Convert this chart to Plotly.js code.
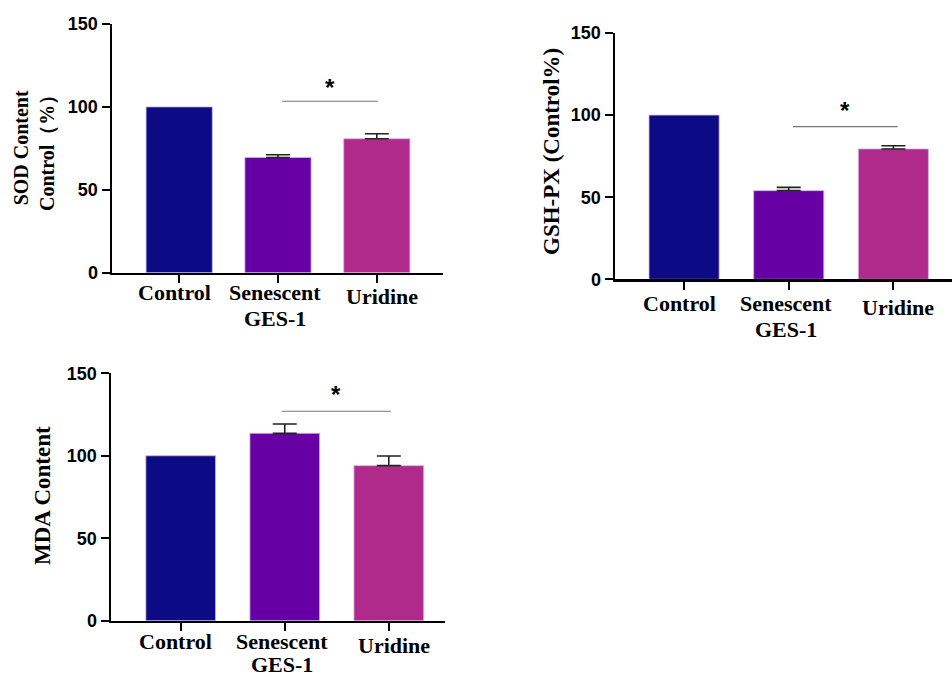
<!DOCTYPE html>
<html>
<head>
<meta charset="utf-8">
<script src="https://cdn.plot.ly/plotly-3.0.1.min.js"></script>
<style>html,body{margin:0;padding:0;background:#fff;}#chart{width:952px;height:677px;}</style>
</head>
<body>
<div id="chart"></div>
<script>
// ---- data ----
const categories = ["Control", "Senescent<br>GES-1", "Uridine"];
const barColors = ["#0c0a84", "#6600a4", "#b02a8c"];

const sodTitle = "SOD Content<br>Control（%）";
const sodValues = [100, 69.5, 80.8];
const sodErrors = [null, 1.6, 3.0];
const sodSigLevel = 103.4;
const sodStarLevel = 112;
const sodSigSpan = [1.04, 2.01];

const gshTitle = "GSH-PX (Control%)";
const gshValues = [100, 54, 79.4];
const gshErrors = [null, 2.0, 1.9];
const gshSigLevel = 93;
const gshStarLevel = 103;
const gshSigSpan = [1.04, 2.04];

const mdaTitle = "MDA Content";
const mdaValues = [100, 113.6, 94];
const mdaErrors = [null, 5.7, 5.9];
const mdaSigLevel = 127;
const mdaStarLevel = 137;
const mdaSigSpan = [0.97, 2.02];

const yTicks = [0, 50, 100, 150];
const sigText = "*";

// ---- layout helpers ----
const W = 952, H = 677;
const serif = "Liberation Serif, Times New Roman, serif";
const sans = "Liberation Sans, Arial, sans-serif";

function bars(vals, errs, xa, ya) {
  return vals.map((v, i) => {
    const t = {
      type: "bar", x: [categories[i]], y: [v], xaxis: xa, yaxis: ya,
      width: 0.67,
      marker: {color: barColors[i], line: {color: "#cbb8e6", width: 0.8}},
      hoverinfo: "none", showlegend: false
    };
    if (errs[i] !== null) {
      t.error_y = {type: "data", symmetric: false, array: [errs[i]], arrayminus: [0],
                   color: "#222", thickness: 1.6, width: 12};
    }
    return t;
  });
}

function xAxis(px0, px1, range, anchor) {
  return {
    domain: [px0 / W, px1 / W], range: range, anchor: anchor,
    type: "category", categoryorder: "array", categoryarray: categories,
    showline: true, linecolor: "#000", linewidth: 2.5,
    ticks: "outside", ticklen: 8, tickwidth: 2, tickcolor: "#000",
    showticklabels: false,
    showgrid: false, zeroline: false, fixedrange: true
  };
}
function yAxis(pyTop, pyBottom, anchor) {
  return {
    domain: [1 - pyBottom / H, 1 - pyTop / H], range: [0, 150], anchor: anchor,
    tickvals: yTicks, showline: true, linecolor: "#000", linewidth: 2.5,
    ticks: "outside", ticklen: 8, tickwidth: 2, tickcolor: "#000",
    showgrid: false, zeroline: false, fixedrange: true,
    tickfont: {family: sans, size: 18, color: "#000", weight: "bold"}
  };
}

const labelXNudge = [-5, -3, 5];
function catLabels(xa, ya, shift, gap) {
  const out = [];
  categories.forEach((c, i) => {
    c.split("<br>").forEach((line, k) => {
      out.push({
        xref: xa, yref: ya, x: i, y: 0, yanchor: "top", xanchor: "center",
        xshift: labelXNudge[i],
        yshift: shift - (i === 2 ? 4 : 0) - gap * k,
        text: line, showarrow: false, align: "center",
        font: {family: serif, size: 22, color: "#000", weight: "bold"}
      });
    });
  });
  return out;
}

function yTitle(xpx, ypx, text, size) {
  return {xref: "paper", yref: "paper", x: xpx / W, y: 1 - ypx / H,
          xanchor: "center", yanchor: "middle", textangle: -90,
          text: text, showarrow: false, align: "center",
          font: {family: serif, size: size, color: "#000", weight: "bold"}};
}

function sigShape(xa, ya, span, level) {
  return {type: "line", xref: xa, yref: ya, x0: span[0], x1: span[1],
          y0: level, y1: level, line: {color: "#777", width: 1.2}};
}
function sigStar(xa, ya, span, starLevel) {
  return {xref: xa, yref: ya, x: (span[0] + span[1]) / 2, y: starLevel,
          text: "<b>" + sigText + "</b>", showarrow: false,
          font: {family: sans, size: 24, color: "#000"}};
}

const data = [].concat(
  bars(sodValues, sodErrors, "x", "y"),
  bars(gshValues, gshErrors, "x2", "y2"),
  bars(mdaValues, mdaErrors, "x3", "y3")
);

const layout = {
  width: W, height: H,
  margin: {l: 0, r: 0, t: 0, b: 0},
  paper_bgcolor: "#fff", plot_bgcolor: "#fff",
  barmode: "overlay",
  xaxis: xAxis(112, 443, [-0.68, 2.67], "y"),
  yaxis: yAxis(24, 272.7, "x"),
  xaxis2: xAxis(615, 952, [-0.66, 2.56], "y2"),
  yaxis2: yAxis(33, 279.3, "x2"),
  xaxis3: xAxis(111, 445, [-0.67, 2.54], "y3"),
  yaxis3: yAxis(373.3, 620.7, "x3"),
  shapes: [
    sigShape("x", "y", sodSigSpan, sodSigLevel),
    sigShape("x2", "y2", gshSigSpan, gshSigLevel),
    sigShape("x3", "y3", mdaSigSpan, mdaSigLevel)
  ],
  annotations: [].concat(
    catLabels("x", "y", -5, 26),
    catLabels("x2", "y2", -9.5, 26),
    catLabels("x3", "y3", -6.5, 23),
    [
      yTitle(34, 148, sodTitle, 20),
      yTitle(552, 152, gshTitle, 23),
      yTitle(43, 496, mdaTitle, 23),
      sigStar("x", "y", sodSigSpan, sodStarLevel),
      sigStar("x2", "y2", gshSigSpan, gshStarLevel),
      sigStar("x3", "y3", mdaSigSpan, mdaStarLevel)
    ]
  )
};

Plotly.newPlot("chart", data, layout, {displayModeBar: false, staticPlot: true});
</script>
</body>
</html>
